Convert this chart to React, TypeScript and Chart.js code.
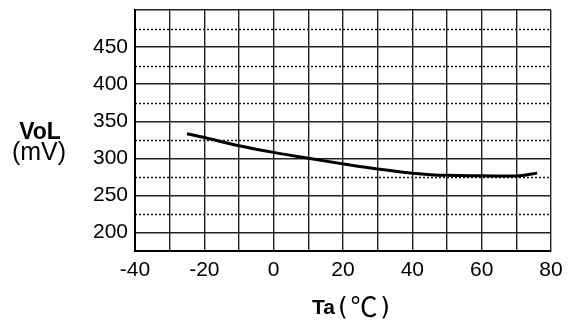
import React, { useEffect, useRef } from "react";
import { Chart, registerables } from "chart.js";

Chart.register(...registerables);

// Data
const tempC = [-25, -20, -10, 0, 10, 20, 30, 40, 50, 60, 70, 76];
const volMv = [333, 328, 317, 308, 300, 292.5, 285.5, 280, 277, 276.5, 276, 280];

const xMin = -40;
const xMax = 80;
const yMin = 175;
const yMax = 500;
const xLabelTicks = [-40, -20, 0, 20, 40, 60, 80];
const yLabelTicks = [200, 250, 300, 350, 400, 450];
const yDottedTicks = [225, 275, 325, 375, 425, 475];

const SANS = "'Liberation Sans', Arial, Helvetica, sans-serif";

const overlayPlugin = {
  id: "overlay",
  beforeDatasetsDraw(chart: any) {
    const { ctx, chartArea, scales } = chart;
    const y = scales.y;
    ctx.save();
    ctx.strokeStyle = "#111";
    ctx.lineWidth = 1.5;
    ctx.setLineDash([2, 2]);
    for (const v of yDottedTicks) {
      const py = Math.round(y.getPixelForValue(v)) + 0.5;
      ctx.beginPath();
      ctx.moveTo(chartArea.left, py);
      ctx.lineTo(chartArea.right, py);
      ctx.stroke();
    }
    ctx.restore();
  },
  afterDraw(chart: any) {
    const { ctx } = chart;
    ctx.save();
    ctx.fillStyle = "#000";
    ctx.textBaseline = "alphabetic";
    // Y title: VoL / (mV)
    ctx.font = `bold 23px ${SANS}`;
    ctx.textAlign = "center";
    ctx.fillText("VoL", 40, 139);
    ctx.font = `25px ${SANS}`;
    ctx.fillText("(mV)", 39, 160);
    // X title: Ta(℃)
    ctx.textAlign = "left";
    ctx.font = `bold 21px ${SANS}`;
    ctx.fillText("Ta", 312, 314);
    ctx.font = `25px 'DejaVu Sans', ${SANS}`;
    ctx.fillText("(", 338, 315);
    ctx.textAlign = "right";
    ctx.fillText(")", 390, 315);
    ctx.textAlign = "center";
    ctx.font = `27px 'Noto Sans CJK JP', 'DejaVu Sans', sans-serif`;
    ctx.fillText("\u2103", 364, 317);
    ctx.restore();
  },
};

export default function App() {
  const ref = useRef<HTMLCanvasElement | null>(null);
  useEffect(() => {
    if (!ref.current) return;
    const chart = new Chart(ref.current, {
      type: "line",
      data: {
        datasets: [
          {
            data: tempC.map((t, i) => ({ x: t, y: volMv[i] })),
            borderColor: "#000",
            borderWidth: 3,
            pointRadius: 0,
            fill: false,
            cubicInterpolationMode: "monotone",
          },
        ],
      },
      options: {
        animation: false,
        responsive: false,
        devicePixelRatio: 1,
        layout: { padding: { left: 0, right: 22, top: 10, bottom: 0 } },
        plugins: { legend: { display: false }, tooltip: { enabled: false } },
        scales: {
          x: {
            type: "linear",
            min: xMin,
            max: xMax,
            afterFit: (s: any) => {
              s.height = 73;
              s.paddingLeft = 0;
              s.paddingRight = 0;
            },
            ticks: {
              stepSize: 10,
              autoSkip: false,
              maxRotation: 0,
              padding: 7,
              color: "#000",
              font: { family: SANS, size: 21 },
              callback: (v: any) => (xLabelTicks.includes(Number(v)) ? String(v) : ""),
            },
            grid: { color: "#222", lineWidth: 1.4, drawTicks: false },
            border: { color: "#000", width: 2 },
          },
          y: {
            type: "linear",
            min: yMin,
            max: yMax,
            afterFit: (s: any) => {
              s.width = 135;
              s.paddingTop = 0;
              s.paddingBottom = 0;
            },
            ticks: {
              stepSize: 25,
              autoSkip: false,
              padding: 7,
              color: "#000",
              font: { family: SANS, size: 21 },
              callback: (v: any) => (yLabelTicks.includes(Number(v)) ? String(v) : ""),
            },
            grid: {
              color: (c: any) =>
                yDottedTicks.includes(c.tick?.value) ? "rgba(0,0,0,0)" : "#222",
              lineWidth: 1.4,
              drawTicks: false,
            },
            border: { color: "#000", width: 2 },
          },
        },
      },
      plugins: [overlayPlugin],
    } as any);
    return () => chart.destroy();
  }, []);
  return (
    <div style={{ position: "fixed", left: 0, top: 0, width: 573, height: 324, background: "#fff" }}>
      <canvas ref={ref} width={573} height={324} />
    </div>
  );
}
